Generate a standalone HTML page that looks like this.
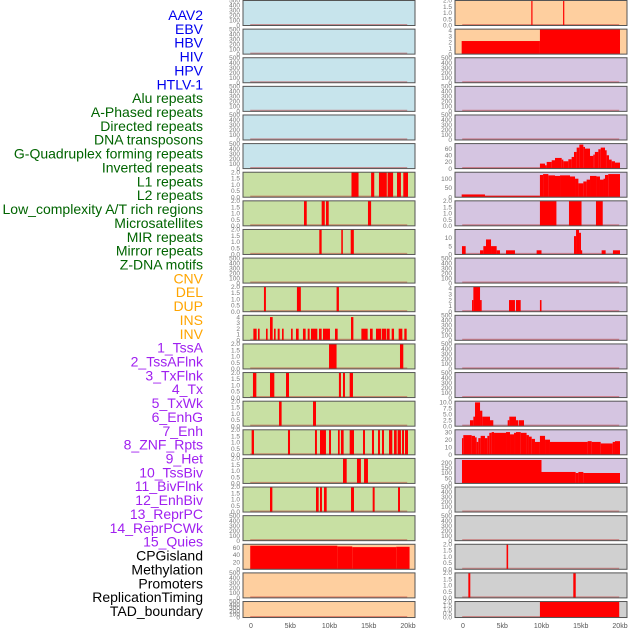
<!DOCTYPE html>
<html><head><meta charset="utf-8"><style>
body{margin:0;background:#fff;width:630px;height:630px;overflow:hidden;font-family:"Liberation Sans",sans-serif}
</style></head><body>
<svg id="chart" width="630" height="630" xmlns="http://www.w3.org/2000/svg"></svg>
<script>
const trackLabels=["AAV2","EBV","HBV","HIV","HPV","HTLV-1","Alu repeats","A-Phased repeats","Directed repeats","DNA transposons","G-Quadruplex forming repeats","Inverted repeats","L1 repeats","L2 repeats","Low_complexity A/T rich regions","Microsatellites","MIR repeats","Mirror repeats","Z-DNA motifs","CNV","DEL","DUP","INS","INV","1_TssA","2_TssAFlnk","3_TxFlnk","4_Tx","5_TxWk","6_EnhG","7_Enh","8_ZNF_Rpts","9_Het","10_TssBiv","11_BivFlnk","12_EnhBiv","13_ReprPC","14_ReprPCWk","15_Quies","CPGisland","Methylation","Promoters","ReplicationTiming","TAD_boundary"];
const labelGroups=[6,13,5,15,5];
const xTicks=[0,5,10,15,20];
const xTickLabels=["0","5kb","10kb","15kb","20kb"];
const ticks500=[0,100,200,300,400,500];
const ticks2=[0,0.5,1,1.5,2];
// segments [startKb,endKb,value]
const L6=[[12.8,13.7,2],[15.3,15.7,2],[16.3,17.3,2],[17.4,18.1,2],[18.6,19.1,2],[19.4,20,2]];
const L7=[[6.75,7.1,2],[9.0,9.4,2],[9.55,9.9,2],[14.9,15.3,2]];
const L8=[[8.7,9.0,2],[11.5,11.7,2],[12.7,13.1,2]];
const L10=[[1.65,1.9,2],[5.85,6.35,2],[10.9,11.2,2]];
const L11=[[0.3,0.72,2],[0.89,1.1,2],[1.91,2.12,2],[2.42,2.76,4],[2.93,3.14,2],[3.4,3.65,2],[3.95,4.16,2],[5.1,5.31,2],[5.73,6.07,2],[6.62,6.96,2],[7.22,7.47,2],[7.64,8.45,2],[8.66,9.0,2],[9.17,10.06,2],[10.7,11.04,2],[12.74,13.04,4],[14.06,14.86,2],[15.16,15.5,2],[15.92,16.56,2],[16.65,17.2,2],[17.28,17.66,2],[17.92,18.22,2],[18.81,19.28,2],[19.53,19.83,2]];
const L12=[[9.94,10.9,2],[18.98,19.4,2]];
const L13=[[0.25,0.68,2],[2.42,2.97,2],[4.46,4.84,2],[11.2,11.46,2],[11.72,11.97,2],[12.57,12.99,2]];
const L14=[[3.57,3.9,2],[7.9,8.28,2]];
const L15=[[0.08,0.38,2],[4.71,4.97,2],[8.15,8.4,2],[8.79,9.55,2],[9.94,10.19,2],[11.08,11.3,2],[11.46,11.8,2],[12.57,13.12,2],[14.27,14.52,2],[15.41,15.67,2],[16.18,16.43,2],[16.69,16.94,2],[17.58,18.0,2],[18.22,18.56,2],[18.68,19.1,2],[19.24,19.49,2],[19.62,20.0,2]];
const L16=[[11.72,12.19,2],[13.5,14.0,2],[14.4,14.9,2]];
const L17=[[2.42,2.72,2],[8.28,8.62,2],[8.79,9.04,2],[9.3,9.64,2],[12.74,13.12,2],[15.5,15.75,2],[18.73,18.98,2]];
const L19=[[-0.1,11,66],[11,12.9,64],[12.9,18.5,62],[18.5,20.2,63]];
const R0=[[8.7,8.8,2],[12.75,12.85,2]];
const R1=[[-0.17,9.8,2.2],[9.8,20,4.2]];
const R5=[[-0.1,9.8,1],[9.8,10.45,15],[10.45,10.66,10],[10.66,11.3,20],[11.3,11.72,25],[11.72,12.57,32],[12.57,12.78,27],[12.78,13.42,22],[13.42,13.84,28],[13.84,14.14,35],[14.14,14.48,50],[14.48,14.82,63],[14.82,15.33,72],[15.33,15.54,65],[15.54,16.18,60],[16.18,16.6,38],[16.6,16.8,42],[16.8,17.24,50],[17.24,17.54,58],[17.54,18.09,63],[18.09,18.3,55],[18.3,18.6,40],[18.6,18.94,27],[18.94,19.36,22],[19.36,20,18]];
const R6=[[-0.17,2.8,15],[2.8,9.8,8],[9.8,10.2,120],[10.2,10.87,125],[10.87,11.72,118],[11.72,12.36,115],[12.36,13.63,118],[13.63,14.27,112],[14.27,14.7,100],[14.7,15.33,75],[15.33,15.75,85],[15.75,16.18,95],[16.18,17.0,115],[17.0,17.45,112],[17.45,17.9,95],[17.9,18.09,100],[18.09,18.5,120],[18.5,20,125]];
const R7=[[9.8,11.9,2],[13.5,15.1,2],[16.94,17.8,2]];
const R8=[[-0.13,0.34,5],[2.17,2.59,2.5],[2.59,2.93,5],[2.93,3.57,9],[3.57,4.29,5],[4.29,4.71,2.5],[5.48,6.62,2.5],[9.38,10.0,2.5],[14.14,14.4,11],[14.4,14.78,15],[14.78,15.03,13],[15.03,15.16,2.5],[17.66,18.17,2.5],[19.1,20,2.5]];
const R10=[[1.15,1.32,2],[1.32,2.17,4.3],[2.17,2.38,2],[5.86,6.62,2],[6.75,7.35,2],[9.8,10.0,2]];
const R14=[[0.89,1.32,2.5],[1.32,1.53,4],[1.53,2.17,10],[2.17,2.46,6.5],[2.46,3.44,4],[3.44,3.86,2.5],[5.69,5.9,2.5],[5.9,6.75,4],[6.75,7.05,2.5],[7.13,7.77,2.5]];
const R15=[[-0.13,0.04,22],[0.04,1.1,26],[1.1,1.53,25],[1.53,1.74,23],[1.74,1.95,17],[1.95,2.25,22],[2.25,2.8,25],[2.8,3.1,22],[3.1,3.35,25],[3.35,3.65,29],[3.65,3.95,30],[3.95,5.48,29],[5.48,5.99,30],[5.99,6.5,27],[6.5,6.75,29],[6.75,7.35,30],[7.35,8.1,29],[8.1,8.4,26],[8.4,8.75,24],[8.75,9.17,21],[9.17,9.8,17],[9.8,10.45,25],[10.45,11.08,20],[11.08,15.88,17],[15.88,16.39,18],[16.39,17.54,17],[17.54,19.07,15],[19.07,19.36,17],[19.36,20,18]];
const R16=[[-0.13,10.0,225],[10.0,14.35,110],[14.35,14.7,100],[14.7,15.33,110],[15.33,20,100]];
const R19=[[5.55,5.75,2]];
const R20=[[0.68,0.93,2],[14.05,14.36,2]];
const R21=[[9.8,19.9,2]];

const BG={b:"#c7e4ec",g:"#c8e0a3",o:"#fecf9f",p:"#d5c5e1",y:"#d0d0d0"};
const panels=[
 // col,row,bg,ymax,ticks,tickFmt,data
 [0,0,"b",500,ticks500,0,null],[0,1,"b",500,ticks500,0,null],[0,2,"b",500,ticks500,0,null],[0,3,"b",500,ticks500,0,null],[0,4,"b",500,ticks500,0,null],[0,5,"b",500,ticks500,0,null],
 [0,6,"g",2,ticks2,1,L6],[0,7,"g",2,ticks2,1,L7],[0,8,"g",2,ticks2,1,L8],[0,9,"g",500,ticks500,0,null],[0,10,"g",2,ticks2,1,L10],[0,11,"g",4.3,[0,1,2,3,4],0,L11],[0,12,"g",2,ticks2,1,L12],[0,13,"g",2,ticks2,1,L13],[0,14,"g",2,ticks2,1,L14],[0,15,"g",2,ticks2,1,L15],[0,16,"g",2,ticks2,1,L16],[0,17,"g",2,ticks2,1,L17],[0,18,"g",500,ticks500,0,null],
 [0,19,"o",70,[0,20,40,60],0,L19],[0,20,"o",500,ticks500,0,null],[0,21,"o",500,ticks500,0,null],
 [1,0,"o",2,ticks2,1,R0],[1,1,"o",4.2,[0,1,2,3,4],0,R1],[1,2,"p",500,ticks500,0,null],[1,3,"p",500,ticks500,0,null],[1,4,"p",500,ticks500,0,null],
 [1,5,"p",75,[0,20,40,60],0,R5],[1,6,"p",135,[0,50,100],0,R6],[1,7,"p",2,ticks2,1,R7],[1,8,"p",15,[0,5,10],0,R8],[1,9,"p",500,ticks500,0,null],[1,10,"p",4.3,[0,1,2,3,4],0,R10],[1,11,"p",500,ticks500,0,null],[1,12,"p",500,ticks500,0,null],[1,13,"p",500,ticks500,0,null],
 [1,14,"p",10.5,[0,2.5,5,7.5,10],1,R14],[1,15,"p",33,[0,10,20,30],0,R15],[1,16,"p",240,[0,50,100,150,200],0,R16],
 [1,17,"y",500,ticks500,0,null],[1,18,"y",500,ticks500,0,null],[1,19,"y",2,ticks2,1,R19],[1,20,"y",2,ticks2,1,R20],[1,21,"y",2,ticks2,1,R21]
];
const NS="http://www.w3.org/2000/svg";
const svg=document.getElementById('chart');
function mk(tag,attrs,parent){const e=document.createElementNS(NS,tag);for(const k in attrs)e.setAttribute(k,attrs[k]);(parent||svg).appendChild(e);return e;}
const colX=[243,455], PW=172, KB=7.85, X0=[251,463];
function xs(c,v){return X0[c]+v*KB;}
function rowTop(r){return 0.5+r*28.62;}
function rowH(r){return r===21?16:25;}
// labels
const gColors=["#0000ee","#006400","#ffa500","#a020f0","#000000"];
let gi=0,cnt=0;
trackLabels.forEach((t,i)=>{
  while(cnt>=labelGroups[gi]){gi++;cnt=0;}
  cnt++;
  const e=mk('text',{x:203,y:15+i*13.86+5,'text-anchor':'end','font-size':14,fill:gColors[gi]});
  e.textContent=t;
  
  
});
panels.forEach(p=>{
  const [c,r,bg,ymax,tk,fmt,data]=p;
  const x=colX[c], y=rowTop(r), h=rowH(r);
  const g=mk('g',{});
  
  
  mk('rect',{x:x,y:y,width:PW,height:h,fill:BG[bg]},g);
  const ys=v=>y+h-v/ymax*h;
  mk('line',{x1:xs(c,-0.1),x2:xs(c,19.9),y1:y+h-0.8,y2:y+h-0.8,stroke:"rgba(190,40,40,0.45)","stroke-width":1.5},g);
  if(data){data.forEach(d=>{
    const xa=xs(c,d[0]),xb=xs(c,d[1]);
    const b=mk('rect',{x:xa,y:ys(d[2]),width:Math.max(xb-xa,1.2),height:y+h-ys(d[2]),fill:"#ff0000"},g);
    
    
  });}
  mk('rect',{x:x,y:y,width:PW,height:h,fill:"none",stroke:"#555","stroke-width":1},g);
  tk.forEach(v=>{
    const t=mk('text',{x:x-3,y:ys(v)+2.2,'text-anchor':'end','font-size':6.5,fill:"#777"},g);
    t.textContent=fmt?v.toFixed(1):String(v);
  });
});
[0,1].forEach(c=>{
  xTicks.forEach((v,i)=>{
    const t=mk('text',{x:xs(c,v),y:628,'text-anchor':'middle','font-size':7,fill:"#555"});
    t.textContent=xTickLabels[i];
    
    
  });
});
</script>
</body></html>
